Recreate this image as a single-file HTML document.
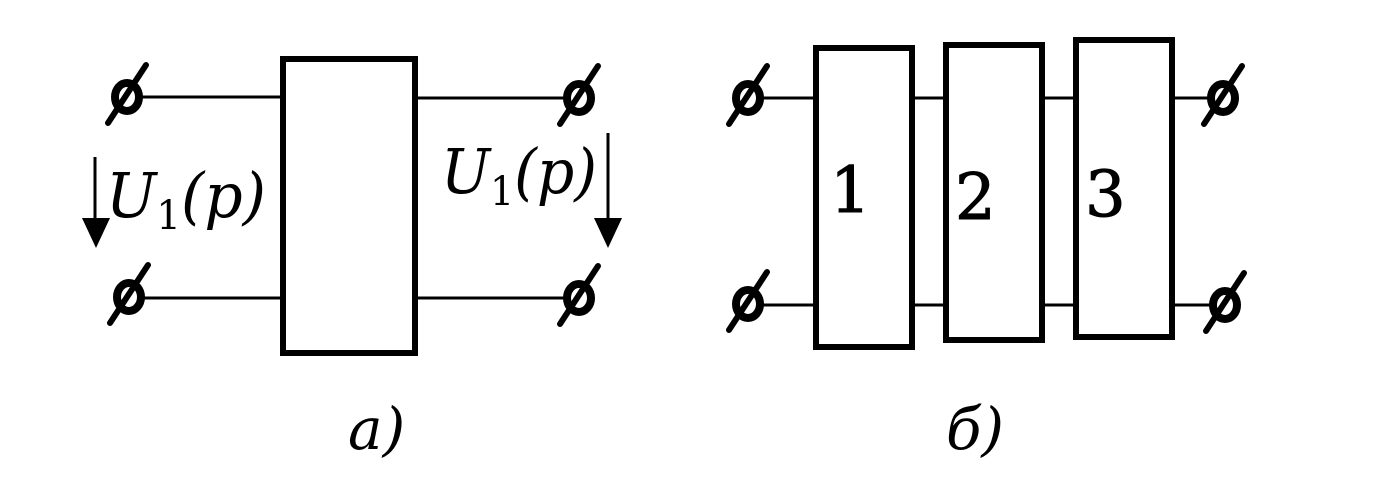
<!DOCTYPE html>
<html><head><meta charset="utf-8"><style>
html,body{margin:0;padding:0;background:#fff;}
svg{display:block;}
</style></head><body>
<svg width="1374" height="493" viewBox="0 0 1374 493" xmlns="http://www.w3.org/2000/svg" font-family="'DejaVu Serif', 'Liberation Serif', serif">
<defs>
<g id="t">
<ellipse cx="0" cy="0" rx="12" ry="14" fill="none" stroke="#000" stroke-width="8"/>
<line x1="-19" y1="26" x2="19" y2="-32" stroke="#000" stroke-width="6" stroke-linecap="round"/>
</g>
</defs>
<g stroke="#000" fill="none">
<rect x="283" y="59" width="132" height="294" stroke-width="6"/>
<line x1="139" y1="97" x2="280" y2="97" stroke-width="3"/>
<line x1="139" y1="298" x2="280" y2="298" stroke-width="3"/>
<line x1="418" y1="98" x2="566" y2="98" stroke-width="3"/>
<line x1="418" y1="298" x2="566" y2="298" stroke-width="3"/>
<line x1="95" y1="157" x2="95" y2="222" stroke-width="3"/>
<line x1="608" y1="133" x2="608" y2="222" stroke-width="3"/>
<rect x="816" y="48" width="96" height="299" stroke-width="6"/>
<rect x="946" y="45" width="96" height="295" stroke-width="6"/>
<rect x="1076" y="40" width="96" height="297" stroke-width="6"/>
<line x1="760" y1="98" x2="813" y2="98" stroke-width="3"/>
<line x1="760" y1="305" x2="813" y2="305" stroke-width="3"/>
<line x1="915" y1="98" x2="943" y2="98" stroke-width="3"/>
<line x1="915" y1="305" x2="943" y2="305" stroke-width="3"/>
<line x1="1045" y1="98" x2="1073" y2="98" stroke-width="3"/>
<line x1="1045" y1="305" x2="1073" y2="305" stroke-width="3"/>
<line x1="1175" y1="98" x2="1212" y2="98" stroke-width="3"/>
<line x1="1175" y1="305" x2="1212" y2="305" stroke-width="3"/>
</g>
<polygon points="82,218 110,218 96,248" fill="#000"/>
<polygon points="594,218 622,218 608,248" fill="#000"/>
<use href="#t" x="127" y="97"/>
<use href="#t" x="129" y="297"/>
<use href="#t" x="579" y="98"/>
<use href="#t" x="579" y="298"/>
<use href="#t" x="748" y="98"/>
<use href="#t" x="748" y="304"/>
<use href="#t" x="1223" y="98"/>
<use href="#t" x="1225" y="305"/>
<text x="106" y="217" font-size="62" font-style="italic" textLength="160" lengthAdjust="spacingAndGlyphs">U<tspan font-style="normal" font-size="40" dy="12">1</tspan><tspan dy="-12">(</tspan>p<tspan>)</tspan></text>
<text x="441" y="193" font-size="62" font-style="italic" textLength="156" lengthAdjust="spacingAndGlyphs">U<tspan font-style="normal" font-size="40" dy="12">1</tspan><tspan dy="-12">(</tspan>p<tspan>)</tspan></text>
<text x="348" y="449" font-size="58" font-style="italic">a)</text>
<text x="946" y="449" font-size="58" font-style="italic">б)</text>
<text x="830" y="212" font-size="64" stroke="#000" stroke-width="1">1</text>
<text x="955" y="219" font-size="64" stroke="#000" stroke-width="1">2</text>
<text x="1085" y="216" font-size="64" stroke="#000" stroke-width="1">3</text>
</svg>
</body></html>
